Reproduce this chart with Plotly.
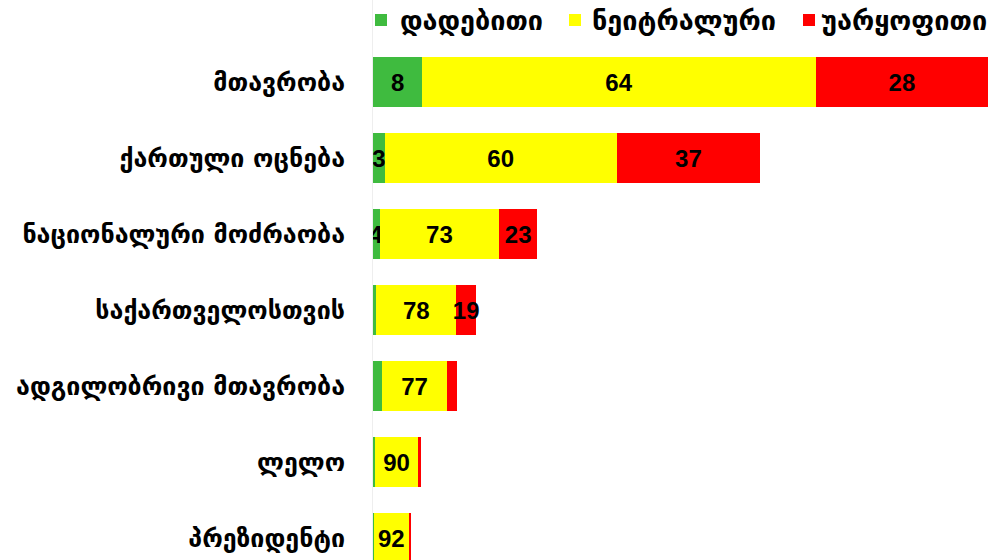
import plotly.graph_objects as go

categories = ["მთავრობა", "ქართული ოცნება", "ნაციონალური მოძრაობა", "საქართველოსთვის",
              "ადგილობრივი მთავრობა", "ლელო", "პრეზიდენტი"]
totals = [615, 387, 164, 103, 84, 48, 38]          # relative bar length (mentions)
positive = [8, 3, 4, 3, 11, 4, 2]                  # %
neutral = [64, 60, 73, 78, 77, 90, 92]             # %
negative = [28, 37, 23, 19, 12, 6, 6]              # %
pos_label = ["8", "3", "4", "", "", "", ""]
neu_label = ["64", "60", "73", "78", "77", "90", "92"]
neg_label = ["28", "37", "23", "19", "", "", ""]

series = [
    ("დადებითი", positive, pos_label, "#3fbb3f"),
    ("ნეიტრალური", neutral, neu_label, "#ffff00"),
    ("უარყოფითი", negative, neg_label, "#ff0000"),
]

W, H = 995, 560
L = 373
PW = W - L

ypos = list(range(len(categories)))
fig = go.Figure()
for name, pct, labels, color in series:
    fig.add_trace(go.Bar(
        y=ypos, x=[p * t / 100 for p, t in zip(pct, totals)], orientation="h",
        name=name, marker=dict(color=color, line=dict(width=0)),
        text=labels, textposition="inside", insidetextanchor="middle", textangle=0,
        textfont=dict(family="Liberation Sans", size=24, color="black", weight="bold"),
        width=0.66, hoverinfo="skip", showlegend=False,
    ))

# legend drawn manually (square + label) to match the original spacing
legend_pos = [(375, 398), (569, 590), (803, 819)]   # px: square left, text left
def px2paper(px):
    return (px - L) / PW
def py2paper(py):
    return 1 - py / H
for (sq_x, tx_x), (name, _, _, color) in zip(legend_pos, series):
    fig.add_shape(type="rect", xref="paper", yref="paper",
                  x0=px2paper(sq_x), x1=px2paper(sq_x + 12),
                  y0=py2paper(26), y1=py2paper(14),
                  fillcolor=color, line=dict(width=0))
    fig.add_annotation(xref="paper", yref="paper", x=px2paper(tx_x), y=py2paper(21),
                       xanchor="left", yanchor="middle", showarrow=False, text=name,
                       font=dict(family="DejaVu Sans", size=27, color="black", weight="bold"))

# bar 1 centre at y=82 px, step 76 px per category
y_top = (0 - 82) / 76
y_bot = (H - 82) / 76

fig.update_layout(
    barmode="stack", width=W, height=H,
    margin=dict(l=L, r=0, t=0, b=0, autoexpand=False),
    plot_bgcolor="white", paper_bgcolor="white",
    uniformtext=dict(minsize=24, mode="show"),
    showlegend=False, hovermode=False,
    xaxis=dict(range=[0, PW], showticklabels=False, showgrid=False, zeroline=False,
               automargin=False),
    yaxis=dict(range=[y_bot, y_top], tickvals=ypos, ticktext=categories,
               showgrid=False, zeroline=False, showline=True, linecolor="#eeeeee",
               ticks="", ticklabelstandoff=22, automargin=False,
               tickfont=dict(family="DejaVu Sans", size=25, color="black", weight="bold")),
)
fig.write_html("out.html", config={"displayModeBar": False},
               post_script="document.body.style.margin='0';")
